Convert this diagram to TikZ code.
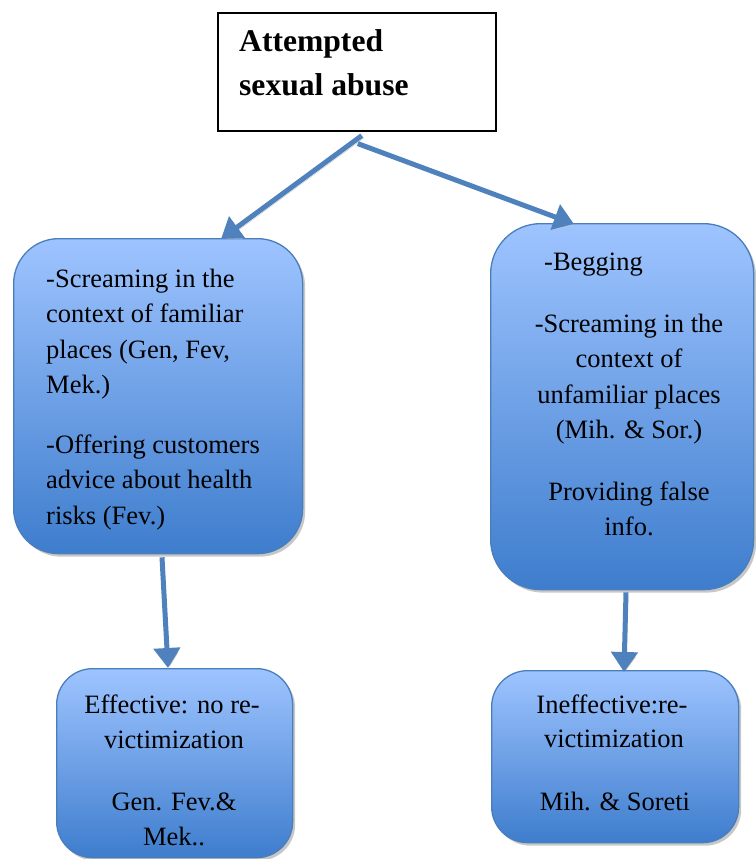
\documentclass[tikz,border=0pt]{standalone}
\usepackage{fontspec}
\setmainfont{Liberation Serif}
\usetikzlibrary{arrows.meta,calc,shadows}

\definecolor{boxtop}{RGB}{158,196,255}
\definecolor{boxmid}{RGB}{120,164,232}
\definecolor{boxbot}{RGB}{62,125,205}
\definecolor{boxline}{RGB}{74,126,187}
\definecolor{arrowblue}{RGB}{79,129,189}

\tikzset{
  bluebox/.style={draw=boxline, line width=1.3pt, rounded corners=#1,
    top color=boxtop, middle color=boxmid, bottom color=boxbot,
    drop shadow={shadow xshift=2.5pt, shadow yshift=-3pt, fill=black!22, opacity=1},
    inner sep=0pt, anchor=north west},
  bluebox/.default=45pt,
  titlebox/.style={draw=black, line width=1.6pt, fill=white, inner sep=0pt, anchor=north west},
  conn/.style={line width=5pt, draw=arrowblue,
    -{Triangle[width=26pt,length=20pt]},
    preaction={draw=black!22, transform canvas={xshift=2pt,yshift=-2.5pt}}},
  txt/.style={inner sep=0pt, font=\fontsize{26.5}{35}\selectfont},
  ttl/.style={inner sep=0pt, font=\fontsize{31.6}{43}\selectfont\bfseries, anchor=base west},
}

\begin{document}
\begin{tikzpicture}[x=1pt,y=-1pt]
\useasboundingbox (0,0) rectangle (755,859);

% boxes
\node[titlebox, minimum width=278pt, minimum height=118pt] (top) at (217,12) {};
\node[bluebox=45pt, minimum width=289pt, minimum height=315pt] (lbox) at (13,238) {};
\node[bluebox=50pt, minimum width=263pt, minimum height=366pt] (rbox) at (490,223) {};
\node[bluebox=36pt, minimum width=236pt, minimum height=189pt] (lres) at (56,668) {};
\node[bluebox=36pt, minimum width=247pt, minimum height=172pt] (rres) at (491,670) {};

% title
\node[ttl] (t1) at (239,52) {Attempted};
\node[ttl] (t2) at (239,95) {sexual abuse};

% left strategies
\begin{scope}[every node/.style={txt, anchor=base west}]
\node (l1) at (46,287) {-Screaming in the};
\node (l2) at (46,322.5) {context of familiar};
\node (l3) at (46,358) {places (Gen, Fev,};
\node (l4) at (46,393) {Mek.)};
\node (l5) at (46,453) {-Offering customers};
\node (l6) at (46,488.5) {advice about health};
\node (l7) at (46,524) {risks (Fev.)};
\end{scope}

% right strategies
\node[txt, anchor=base west] (r0) at (544,270) {-Begging};
\begin{scope}[every node/.style={txt, anchor=base}]
\node (r1) at (629,332) {-Screaming in the};
\node (r2) at (629,367.5) {context of};
\node (r3) at (629,403) {unfamiliar places};
\node (r4) at (629,438) {(Mih. \& Sor.)};
\node (r5) at (629,500) {Providing false};
\node (r6) at (629,535) {info.};

% outcomes
\node (a1) at (172,713) {Effective: no re-};
\node (a2) at (174,748) {victimization};
\node (a3) at (174,810) {Gen. Fev.\&};
\node (a4) at (174,845) {Mek..};
\node (b1) at (612,713) {Ineffective:re-};
\node (b2) at (614,747.5) {victimization};
\node (b3) at (615,810) {Mih. \& Soreti};
\end{scope}

% connectors
\draw[conn] ($(top.south)+(5,4)$) -- ($(lbox.north west)+(208,1)$);
\draw[conn] ($(top.south)+(1,12)$) -- ($(rbox.north west)+(84,1)$);
\draw[conn] ($(lbox.south west)+(149,3)$) -- ($(lres.north west)+(112,0)$);
\draw[conn] ($(rbox.south west)+(136,2)$) -- ($(rres.north west)+(133,2)$);
\end{tikzpicture}
\end{document}
